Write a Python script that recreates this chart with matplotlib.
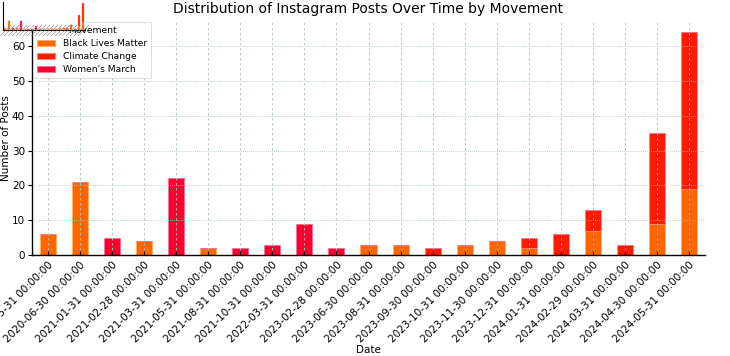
import matplotlib
matplotlib.use("Agg")
import matplotlib.pyplot as plt
import numpy as np

dates = ["2020-05-31", "2020-06-30", "2021-01-31", "2021-02-28", "2021-03-31",
         "2021-05-31", "2021-08-31", "2021-10-31", "2022-03-31", "2023-02-28",
         "2023-06-30", "2023-08-31", "2023-09-30", "2023-10-31", "2023-11-30",
         "2023-12-31", "2024-01-31", "2024-02-29", "2024-03-31", "2024-04-30",
         "2024-05-31"]
tick_labels = [d + " 00:00:00" for d in dates]
black_lives_matter = [6, 21, 0, 4, 0, 2, 0, 0, 0, 0, 3, 3, 0, 3, 4, 2, 0, 7, 0, 9, 19]
climate_change = [0, 0, 0, 0, 0, 0, 0, 0, 0, 0, 0, 0, 2, 0, 0, 3, 6, 6, 3, 26, 45]
womens_march = [0, 0, 5, 0, 22, 0, 2, 3, 9, 2, 0, 0, 0, 0, 0, 0, 0, 0, 0, 0, 0]
series_names = ["Black Lives Matter", "Climate Change", "Women's March"]
colors = ["#ff6600", "#ff1a00", "#ff0033"]
edges = ["#ffb060", "#ff8a70", "#ff7090"]

plt.rcParams['font.family'] = ['DejaVu Sans']


def draw(ax, small=False):
    x = np.arange(len(dates))
    bottom = np.zeros(len(dates))
    for name, vals, c, e in zip(series_names,
                                [black_lives_matter, climate_change, womens_march],
                                colors, edges):
        vals = np.array(vals, dtype=float)
        ax.bar(x, vals, 0.5, bottom=bottom, color=c, edgecolor=e,
               linewidth=0.3 if small else 0.6, label=name, zorder=1)
        bottom += vals
    ax.set_xlim(-0.5, len(dates) - 0.5)
    ax.set_ylim(0, 67.2)
    for s in ["top", "right"]:
        ax.spines[s].set_visible(False)
    ax.grid(axis='x', color='#a9c0c0', linestyle=(0, (3, 3)), linewidth=0.6, zorder=2)
    ax.grid(axis='y', color='#a9c0c0', linestyle=(0, (1, 1.5)), linewidth=0.6, zorder=2)
    ax.set_axisbelow(False)


fig = plt.figure(figsize=(7.3, 3.56), dpi=100)
ax = fig.add_axes([32 / 730, 1 - 255 / 356, 673 / 730, 234 / 356])
draw(ax)
ax.set_xticks(np.arange(len(dates)))
ax.set_xticklabels(tick_labels, rotation=45, ha='right', rotation_mode='anchor', fontsize=7.5)
ax.tick_params(axis='x', direction='in', length=3, width=0.8)
ax.tick_params(axis='y', direction='out', length=3, width=0.8, labelsize=7.5, pad=2)
ax.set_yticks([0, 10, 20, 30, 40, 50, 60])
for s in ["left", "bottom"]:
    ax.spines[s].set_linewidth(1.0)
ax.set_title("Distribution of Instagram Posts Over Time by Movement", fontsize=10, pad=6)
ax.set_xlabel("Date", fontsize=7.5, labelpad=0)
ax.set_ylabel("Number of Posts", fontsize=7.5)
ax.yaxis.set_label_coords(-21 / 673, 0.5)
leg = ax.legend(title="Movement", loc="upper left", fontsize=6.6, title_fontsize=6.6,
                frameon=True, fancybox=False, edgecolor='#cccccc',
                borderaxespad=0.15, handlelength=2.0, handleheight=0.6,
                labelspacing=0.45, handletextpad=0.8)
leg.get_frame().set_linewidth(0.6)

# small thumbnail in top-left corner
tax = fig.add_axes([3 / 730, 1 - 30 / 356, 82 / 730, 28 / 356])
draw(tax, small=True)
tax.set_xticks(np.arange(len(dates)))
tax.set_xticklabels(["" for _ in dates])
tax.set_yticks([])
tax.grid(False)
tax.tick_params(axis='x', length=6, width=0.4, direction='out', color='#888888')
for t in tax.xaxis.get_major_ticks():
    t.tick1line.set_marker((2, 0, -45))
    t.tick1line.set_markersize(11)

fig.savefig("out.png", dpi=100)
